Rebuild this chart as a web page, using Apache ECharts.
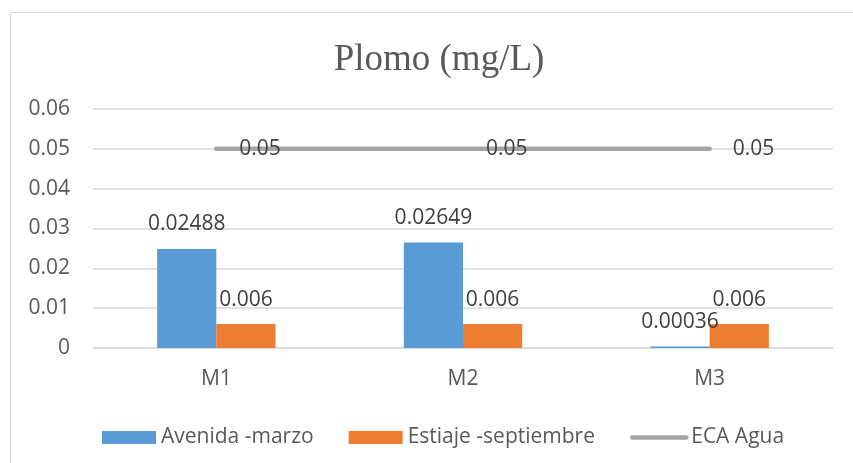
<!DOCTYPE html>
<html>
<head>
<meta charset="utf-8">
<script src="https://cdn.jsdelivr.net/npm/echarts@6/dist/echarts.min.js"></script>
<style>
html,body{margin:0;padding:0;background:#fff;}
#chart{width:853px;height:463px;}
</style>
</head>
<body>
<div id="chart"></div>
<script>
const categories = ['M1', 'M2', 'M3'];
const avenidaMarzo = [0.02488, 0.02649, 0.00036];
const estiajeSeptiembre = [0.006, 0.006, 0.006];
const ecaAgua = [0.05, 0.05, 0.05];
const seriesNames = ['Avenida -marzo', 'Estiaje -septiembre', 'ECA Agua'];
const titleText = 'Plomo (mg/L)';

const chart = echarts.init(document.getElementById('chart'));
const labelColor = '#404040';
const axisColor = '#595959';
const font = 'Open Sans';

chart.setOption({
  animation: false,
  backgroundColor: '#fff',
  graphic: [{
    type: 'rect',
    shape: {x: 10.5, y: 12.5, width: 900, height: 500},
    style: {fill: 'none', stroke: '#D9D9D9', lineWidth: 1}
  }],
  title: {
    text: titleText,
    left: 434,
    top: 37,
    textAlign: 'center',
    textStyle: {fontFamily: 'Liberation Serif', fontSize: 37, fontWeight: 'normal', color: axisColor}
  },
  grid: {left: 93, right: 20, top: 109, bottom: 115, containLabel: false},
  legend: {
    data: [
      {name: seriesNames[0], icon: 'rect'},
      {name: seriesNames[1], icon: 'rect'},
      {name: seriesNames[2], itemStyle: {opacity: 0}, lineStyle: {width: 4.5, cap: 'round', color: '#A5A5A5'}}
    ],
    left: 97,
    top: 422,
    itemWidth: 54,
    itemHeight: 13,
    itemGap: 35,
    textStyle: {fontFamily: font, fontSize: 21, color: axisColor, padding: [0, 0, 0, 0]}
  },
  xAxis: {
    type: 'category',
    data: categories,
    axisLine: {lineStyle: {color: '#D9D9D9', width: 1.5}},
    axisTick: {show: false},
    axisLabel: {fontFamily: font, fontSize: 21, color: axisColor, margin: 21}
  },
  yAxis: {
    type: 'value',
    min: 0,
    max: 0.06,
    interval: 0.01,
    axisLine: {show: false},
    axisTick: {show: false},
    splitLine: {lineStyle: {color: '#D9D9D9', width: 1.5}},
    axisLabel: {
      fontFamily: font, fontSize: 21, color: axisColor, margin: 23,
      formatter: v => v === 0 ? '0' : v.toFixed(2)
    }
  },
  series: [
    {
      name: seriesNames[0],
      type: 'bar',
      data: avenidaMarzo,
      barGap: '0%',
      barCategoryGap: '52%',
      itemStyle: {color: '#5B9BD5'},
      label: {show: true, position: 'top', distance: 14, fontFamily: font, fontSize: 21, color: labelColor,
        formatter: p => String(p.value)}
    },
    {
      name: seriesNames[1],
      type: 'bar',
      data: estiajeSeptiembre,
      itemStyle: {color: '#ED7D31'},
      label: {show: true, position: 'top', distance: 14, fontFamily: font, fontSize: 21, color: labelColor,
        formatter: p => String(p.value)}
    },
    {
      name: seriesNames[2],
      type: 'line',
      data: ecaAgua,
      symbol: 'circle',
      symbolSize: 0,
      showSymbol: true,
      itemStyle: {color: '#A5A5A5'},
      lineStyle: {color: '#A5A5A5', width: 4.5, cap: 'round'},
      z: 3,
      labelLayout: {hideOverlap: false},
      label: {show: true, position: 'right', distance: 23, fontFamily: font, fontSize: 21, color: labelColor,
        offset: [0, 4], formatter: p => String(p.value)}
    }
  ]
});
</script>
</body>
</html>
